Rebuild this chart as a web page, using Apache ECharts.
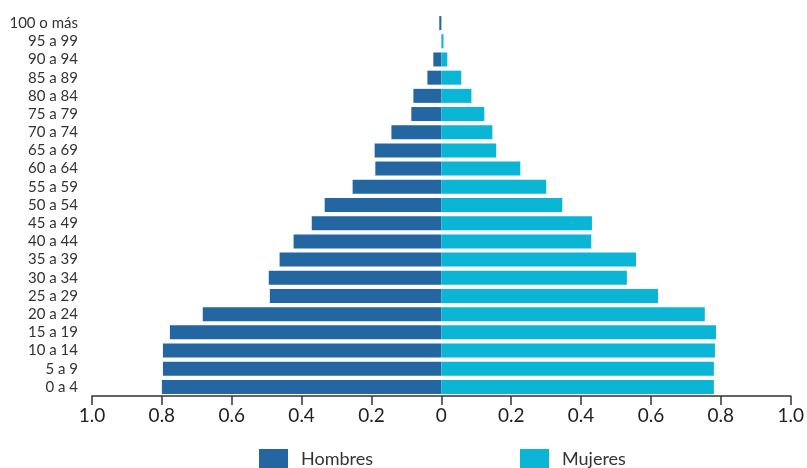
<!DOCTYPE html>
<html>
<head>
<meta charset="utf-8">
<script src="https://cdn.jsdelivr.net/npm/echarts@6/dist/echarts.min.js"></script>
<style>
html,body{margin:0;padding:0;background:#fff;}
#main{width:807px;height:468px;}
</style>
</head>
<body>
<div id="main"></div>
<script>
const categories = ['0 a 4','5 a 9','10 a 14','15 a 19','20 a 24','25 a 29','30 a 34','35 a 39','40 a 44','45 a 49','50 a 54','55 a 59','60 a 64','65 a 69','70 a 74','75 a 79','80 a 84','85 a 89','90 a 94','95 a 99','100 o más'];
const hombres = [0.800,0.797,0.797,0.777,0.683,0.491,0.494,0.463,0.423,0.371,0.334,0.254,0.189,0.191,0.143,0.086,0.080,0.040,0.023,0.000,0.006];
const mujeres = [0.780,0.780,0.783,0.786,0.754,0.620,0.531,0.557,0.429,0.431,0.346,0.300,0.226,0.157,0.146,0.123,0.086,0.057,0.017,0.006,0.000];
const xTicks = [-1,-0.8,-0.6,-0.4,-0.2,0,0.2,0.4,0.6,0.8,1];

const FONT = 'Lato';
const chart = echarts.init(document.getElementById('main'), null, {renderer:'canvas'});
chart.setOption({
  animation:false,
  backgroundColor:'#ffffff',
  textStyle:{fontFamily:FONT},
  grid:{left:92,right:15,top:14,bottom:72,containLabel:false},
  xAxis:{
    type:'value', min:-1, max:1, interval:0.2,
    axisLine:{show:true,lineStyle:{color:'#333',width:1.5}},
    axisTick:{show:true,length:9,lineStyle:{color:'#333',width:1.5}},
    splitLine:{show:false},
    axisLabel:{
      fontFamily:FONT,fontSize:19,color:'#222',margin:10,
      formatter:function(v){ if(Math.abs(v)<1e-9) return '0'; return Math.abs(v).toFixed(1); }
    }
  },
  yAxis:{
    type:'category', data:categories,
    axisLine:{show:false,onZero:false},
    axisTick:{show:false},
    splitLine:{show:false},
    axisLabel:{fontFamily:FONT,fontSize:15,color:'#333',margin:14,interval:0}
  },
  legend:[
    {left:259,top:449,padding:0,itemWidth:29,itemHeight:20,icon:'rect',data:['Hombres'],
     textStyle:{fontFamily:FONT,fontSize:18,color:'#333',padding:[7,0,0,8]}},
    {left:520,top:449,padding:0,itemWidth:29,itemHeight:20,icon:'rect',data:['Mujeres'],
     textStyle:{fontFamily:FONT,fontSize:18,color:'#333',padding:[7,0,0,8]}}
  ],
  series:[
    {name:'Hombres',type:'bar',stack:'total',barWidth:14,
     itemStyle:{color:'#2466A1'},
     data:hombres.map(v=>-v)},
    {name:'Mujeres',type:'bar',stack:'total',barWidth:14,
     itemStyle:{color:'#0AB5D6'},
     data:mujeres}
  ]
});
</script>
</body>
</html>
